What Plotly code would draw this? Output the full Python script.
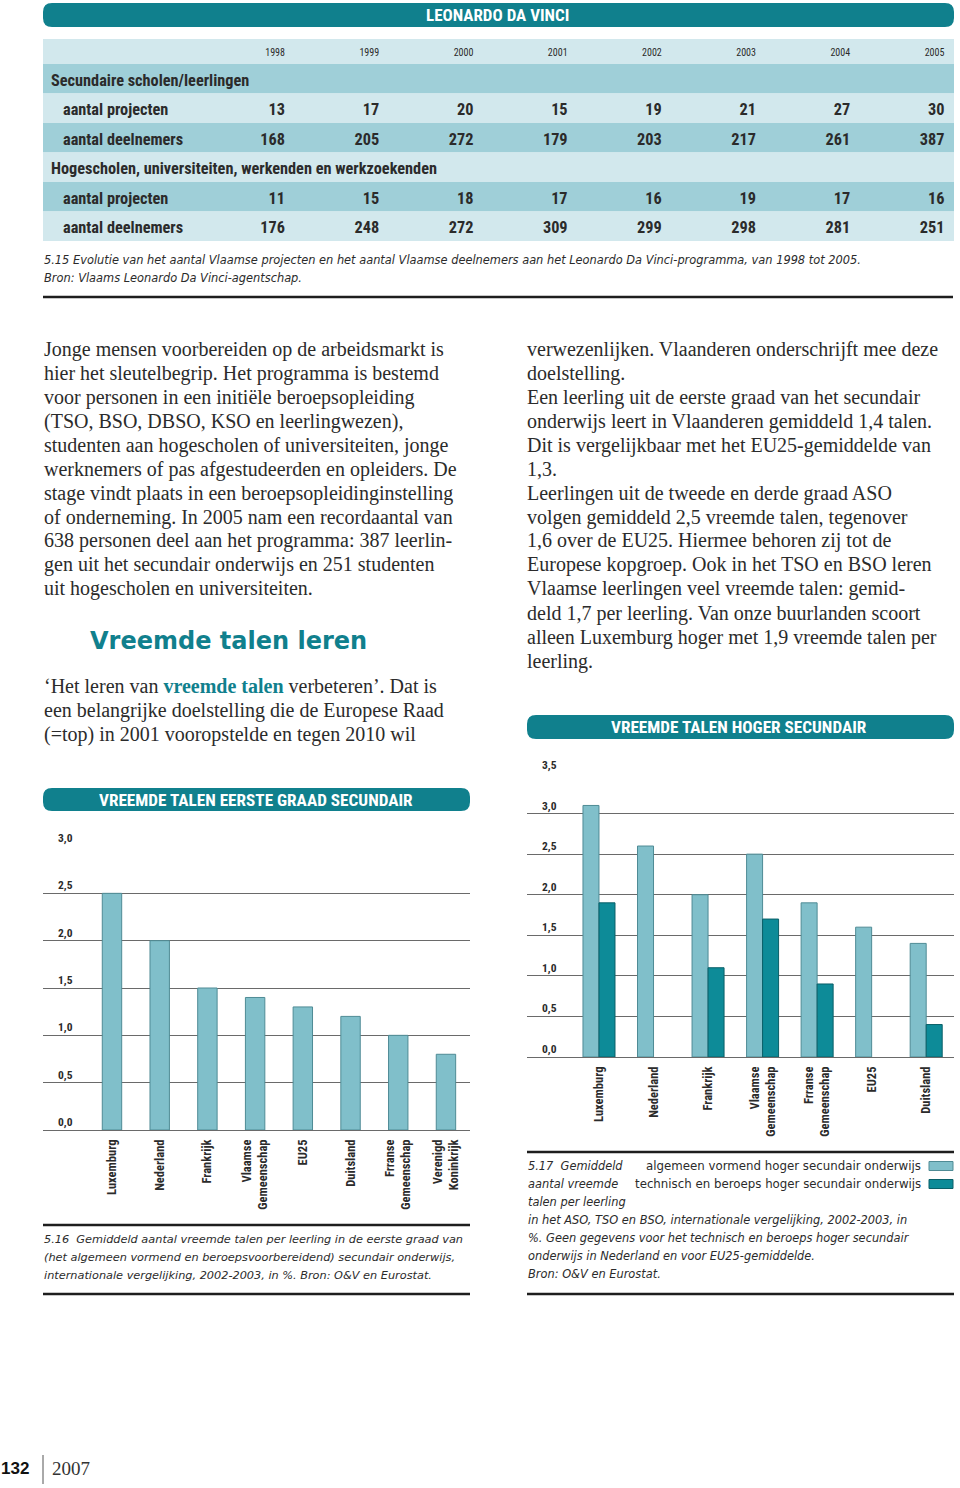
import plotly.graph_objects as go

W, H = 960, 1488


def X(px):
    return px / W


def Y(py):
    return 1 - py / H


TEAL = "#10808d"
LIGHT_ROW = "#d2e8ed"
MED_ROW = "#9fcfd8"
BAR_LIGHT = "#80bfca"
BAR_LIGHT_LINE = "#4f8b95"
BAR_DARK = "#0d8b98"
BAR_DARK_LINE = "#0a5f68"
GRID = "#6a6a6a"
TXT = "#2b2b2b"
COND = "Roboto Condensed, DejaVu Sans Condensed, Liberation Sans Narrow, Roboto, sans-serif"
SERIF = "Liberation Serif, Times New Roman, serif"
CAP = "DejaVu Sans, Verdana, sans-serif"

# ---------------- data ----------------
years = [1998, 1999, 2000, 2001, 2002, 2003, 2004, 2005]
row_labels = ["Secundaire scholen/leerlingen", "aantal projecten", "aantal deelnemers",
              "Hogescholen, universiteiten, werkenden en werkzoekenden",
              "aantal projecten", "aantal deelnemers"]
row_is_section = [True, False, False, True, False, False]
sec_projecten = [13, 17, 20, 15, 19, 21, 27, 30]
sec_deelnemers = [168, 205, 272, 179, 203, 217, 261, 387]
hog_projecten = [11, 15, 18, 17, 16, 19, 17, 16]
hog_deelnemers = [176, 248, 272, 309, 299, 298, 281, 251]

countries1 = ["Luxemburg", "Nederland", "Frankrijk", "Vlaamse<br>Gemeenschap", "EU25",
              "Duitsland", "Frranse<br>Gemeenschap", "Verenigd<br>Koninkrijk"]
talen_eerste_graad = [2.5, 2.0, 1.5, 1.4, 1.3, 1.2, 1.0, 0.8]

countries2 = ["Luxemburg", "Nederland", "Frankrijk", "Vlaamse<br>Gemeenschap",
              "Frranse<br>Gemeenschap", "EU25", "Duitsland"]
talen_aso = [3.1, 2.6, 2.0, 2.5, 1.9, 1.6, 1.4]
talen_tso_bso = [1.9, None, 1.1, 1.7, 0.9, None, 0.4]
legend_labels = ["algemeen vormend hoger secundair onderwijs",
                 "technisch en beroeps hoger secundair onderwijs"]

left_col = [
    "Jonge mensen voorbereiden op de arbeidsmarkt is",
    "hier het sleutelbegrip. Het programma is bestemd",
    "voor personen in een initiële beroepsopleiding",
    "(TSO, BSO, DBSO, KSO en leerlingwezen),",
    "studenten aan hogescholen of universiteiten, jonge",
    "werknemers of pas afgestudeerden en opleiders. De",
    "stage vindt plaats in een beroepsopleidinginstelling",
    "of onderneming. In 2005 nam een recordaantal van",
    "638 personen deel aan het programma: 387 leerlin-",
    "gen uit het secundair onderwijs en 251 studenten",
    "uit hogescholen en universiteiten.",
]
left_col2 = [
    "‘Het leren van <b><span style='color:%s'>vreemde talen</span></b> verbeteren’. Dat is" % TEAL,
    "een belangrijke doelstelling die de Europese Raad",
    "(=top) in 2001 vooropstelde en tegen 2010 wil",
]
right_col = [
    "verwezenlijken. Vlaanderen onderschrijft mee deze",
    "doelstelling.",
    "Een leerling uit de eerste graad van het secundair",
    "onderwijs leert in Vlaanderen gemiddeld 1,4 talen.",
    "Dit is vergelijkbaar met het EU25-gemiddelde van",
    "1,3.",
    "Leerlingen uit de tweede en derde graad ASO",
    "volgen gemiddeld 2,5 vreemde talen, tegenover",
    "1,6 over de EU25. Hiermee behoren zij tot de",
    "Europese kopgroep. Ook in het TSO en BSO leren",
    "Vlaamse leerlingen veel vreemde talen: gemid-",
    "deld 1,7 per leerling. Van onze buurlanden scoort",
    "alleen Luxemburg hoger met 1,9 vreemde talen per",
    "leerling.",
]
caption15 = [
    "5.15 Evolutie van het aantal Vlaamse projecten en het aantal Vlaamse deelnemers aan het Leonardo Da Vinci-programma, van 1998 tot 2005.",
    "Bron: Vlaams Leonardo Da Vinci-agentschap.",
]
caption16 = [
    "5.16  Gemiddeld aantal vreemde talen per leerling in de eerste graad van",
    "(het algemeen vormend en beroepsvoorbereidend) secundair onderwijs,",
    "internationale vergelijking, 2002-2003, in %. Bron: O&V en Eurostat.",
]
caption17_short = ["5.17  Gemiddeld", "aantal vreemde", "talen per leerling"]
caption17 = [
    "in het ASO, TSO en BSO, internationale vergelijking, 2002-2003, in",
    "%. Geen gegevens voor het technisch en beroeps hoger secundair",
    "onderwijs in Nederland en voor EU25-gemiddelde.",
    "Bron: O&V en Eurostat.",
]

fig = go.Figure()

# ---------------- table (text traces on a hidden axis pair) ----------------
COL_W = 94.2          # pixel width of a year column
COL0_RIGHT = 285      # pixel right edge of the first year column
TBL_L, TBL_R = 43, 954
ROW_TOP, ROW_H, HDR_TOP = 64, 29.5, 39
TEXT_DY = 0.1         # small downward nudge so glyphs sit centred in a row


def col_x(px):
    return years[0] + (px - COL0_RIGHT) / COL_W


def row_y(px):
    return 0.5 + (px - ROW_TOP) / ROW_H


row_idx = list(range(1, len(row_labels) + 1))
hdr_y = row_y((HDR_TOP + ROW_TOP) / 2) + 0.07
tfont = dict(family=COND, size=16.3, color=TXT, weight="bold")

fig.add_trace(go.Scatter(x=years, y=[hdr_y] * len(years), text=[str(y) for y in years],
                         mode="text", textposition="middle left",
                         textfont=dict(family=COND, size=10, color=TXT),
                         xaxis="x3", yaxis="y3", showlegend=False, hoverinfo="skip"))
fig.add_trace(go.Scatter(x=[col_x(51) if s else col_x(63) for s in row_is_section],
                         y=[r + TEXT_DY for r in row_idx],
                         text=row_labels, mode="text", textposition="middle right",
                         textfont=tfont, xaxis="x3", yaxis="y3", showlegend=False, hoverinfo="skip"))
for vals, r in [(sec_projecten, 2), (sec_deelnemers, 3), (hog_projecten, 5), (hog_deelnemers, 6)]:
    fig.add_trace(go.Scatter(x=years, y=[r + TEXT_DY] * len(years), text=[str(v) for v in vals],
                             mode="text", textposition="middle left", textfont=tfont,
                             xaxis="x3", yaxis="y3", showlegend=False, hoverinfo="skip"))

# ---------------- chart 1 ----------------
fig.add_trace(go.Bar(x=countries1, y=talen_eerste_graad, width=0.407,
                     marker=dict(color=BAR_LIGHT, line=dict(color=BAR_LIGHT_LINE, width=1)),
                     xaxis="x", yaxis="y", showlegend=False))

# ---------------- chart 2 ----------------
fig.add_trace(go.Bar(x=countries2, y=talen_aso, name=legend_labels[0],
                     marker=dict(color=BAR_LIGHT, line=dict(color=BAR_LIGHT_LINE, width=1)),
                     xaxis="x2", yaxis="y2", showlegend=False))
fig.add_trace(go.Bar(x=countries2, y=talen_tso_bso, name=legend_labels[1],
                     marker=dict(color=BAR_DARK, line=dict(color=BAR_DARK_LINE, width=1)),
                     xaxis="x2", yaxis="y2", showlegend=False))

tickfont = dict(family=COND, size=12.5, color=TXT, weight="bold")
ytickfont = dict(family=COND, size=11.5, color=TXT, weight="bold")

fig.update_layout(
    width=W, height=H, margin=dict(l=0, r=0, t=0, b=0, pad=0, autoexpand=False),
    paper_bgcolor="white", plot_bgcolor="rgba(0,0,0,0)",
    separators=", ", barmode="group", bargap=0.413, showlegend=False,
    xaxis=dict(domain=[X(43), X(470)], range=[-1.446, 7.504], anchor="y",
               tickangle=-90, tickfont=tickfont, showgrid=False, ticks="",
               ticklabelstandoff=6, automargin=False),
    yaxis=dict(domain=[Y(1130), Y(846)], range=[0, 3.0], anchor="x", dtick=0.5,
               tickformat=".1f", showgrid=True, gridcolor=GRID, gridwidth=1,
               zeroline=True, zerolinecolor=GRID, zerolinewidth=1,
               ticklabelposition="inside top", ticklabelstandoff=12,
               ticklabeloverflow="allow", tickfont=ytickfont, ticks="", automargin=False),
    xaxis2=dict(domain=[X(527), X(954)], range=[-1.32, 6.51], anchor="y2",
                tickangle=-90, tickfont=tickfont, showgrid=False, ticks="",
                ticklabelstandoff=6, automargin=False),
    yaxis2=dict(domain=[Y(1057), Y(773)], range=[0, 3.5], anchor="x2", dtick=0.5,
                tickformat=".1f", showgrid=True, gridcolor=GRID, gridwidth=1,
                zeroline=True, zerolinecolor=GRID, zerolinewidth=1,
                ticklabelposition="inside top", ticklabelstandoff=12,
                ticklabeloverflow="allow", tickfont=ytickfont, ticks="", automargin=False),
    xaxis3=dict(domain=[X(TBL_L), X(TBL_R)], range=[col_x(TBL_L), col_x(TBL_R)], anchor="y3",
                visible=False, automargin=False),
    yaxis3=dict(domain=[Y(ROW_TOP + ROW_H * len(row_labels)), Y(HDR_TOP)],
                range=[row_y(ROW_TOP + ROW_H * len(row_labels)), row_y(HDR_TOP)],
                anchor="x3", visible=False, automargin=False),
)

shapes = []
ann = []

# table row backgrounds
row_fill = [MED_ROW, LIGHT_ROW, MED_ROW, LIGHT_ROW, MED_ROW, LIGHT_ROW]
shapes.append(dict(type="rect", xref="x3 domain", yref="y3", x0=0, x1=1,
                   y0=row_y(HDR_TOP), y1=0.5, fillcolor=LIGHT_ROW, line=dict(width=0), layer="below"))
for r, c in zip(row_idx, row_fill):
    shapes.append(dict(type="rect", xref="x3 domain", yref="y3", x0=0, x1=1,
                       y0=r - 0.5, y1=r + 0.5, fillcolor=c, line=dict(width=0), layer="below"))


def rounded(x0, y0, x1, y1, r=9):
    xr, yr = r / W, r / H
    a, b, c, d = X(x0), X(x1), Y(y0), Y(y1)
    path = (f"M{a+xr},{c} L{b-xr},{c} Q{b},{c} {b},{c-yr} L{b},{d+yr} Q{b},{d} {b-xr},{d} "
            f"L{a+xr},{d} Q{a},{d} {a},{d+yr} L{a},{c-yr} Q{a},{c} {a+xr},{c} Z")
    return dict(type="path", xref="paper", yref="paper", path=path,
                fillcolor=TEAL, line=dict(width=0))


def hline(x0, x1, y, w=2.5, color="#1e1e1e"):
    return dict(type="line", xref="paper", yref="paper", x0=X(x0), x1=X(x1), y0=Y(y), y1=Y(y),
                line=dict(color=color, width=w))


def text(x, y, s, size, family, color=TXT, xanchor="left", **kw):
    f = dict(family=family, size=size, color=color)
    f.update(kw)
    return dict(xref="paper", yref="paper", x=X(x), y=Y(y), text=s, showarrow=False,
                xanchor=xanchor, yanchor="middle", font=f)


# title bars
shapes.append(rounded(43, 3, 954, 27))
ann.append(text(497, 15, "LEONARDO DA VINCI", 17, COND, "white", "center", weight="bold"))
shapes.append(rounded(43, 788, 470, 811))
ann.append(text(256, 800, "VREEMDE TALEN EERSTE GRAAD SECUNDAIR", 17.2, COND, "white", "center", weight="bold"))
shapes.append(rounded(527, 715, 954, 739))
ann.append(text(739, 727, "VREEMDE TALEN HOGER SECUNDAIR", 17.2, COND, "white", "center", weight="bold"))

# caption 5.15
for i, s in enumerate(caption15):
    ann.append(text(42, 260 + 18 * i, s, 11.4, CAP, style="italic"))
shapes.append(hline(43, 953, 297))

# body text
for i, s in enumerate(left_col):
    ann.append(text(42, 349 + 24 * i, s, 20, SERIF))
ann.append(text(88, 641, "Vreemde talen leren", 24, CAP, TEAL, weight="bold"))
for i, s in enumerate(left_col2):
    ann.append(text(42, 686 + 24 * i, s, 20, SERIF))
for i, s in enumerate(right_col):
    ann.append(text(525, 349 + 24 * i, s, 20, SERIF))

# caption 5.16
shapes.append(hline(43, 470, 1225))
for i, s in enumerate(caption16):
    ann.append(text(42, 1239 + 18 * i, s, 11.3, CAP, style="italic"))
shapes.append(hline(43, 470, 1294))

# caption 5.17 + legend
shapes.append(hline(527, 954, 1152))
for i, s in enumerate(caption17_short):
    ann.append(text(526, 1166 + 18 * i, s, 11.4, CAP, style="italic"))
for i, s in enumerate(caption17):
    ann.append(text(526, 1220 + 18 * i, s, 11.4, CAP, style="italic"))
shapes.append(hline(527, 954, 1294))
for i, (lab, col, lc) in enumerate(zip(legend_labels, [BAR_LIGHT, BAR_DARK],
                                        [BAR_LIGHT_LINE, BAR_DARK_LINE])):
    yc = 1166 + 18 * i
    ann.append(text(923, yc, lab, 11.8, CAP, xanchor="right"))
    shapes.append(dict(type="rect", xref="paper", yref="paper", x0=X(929), x1=X(953),
                       y0=Y(yc + 4.5), y1=Y(yc - 4.5), fillcolor=col, line=dict(color=lc, width=1)))

# footer
ann.append(text(31, 1468, "<b>132</b>", 17, "Liberation Sans, Arial, sans-serif", "#111", "right"))
shapes.append(dict(type="line", xref="paper", yref="paper", x0=X(43), x1=X(43), y0=Y(1455), y1=Y(1484),
                   line=dict(color="#555", width=1)))
ann.append(text(50, 1468, "2007", 19, SERIF, "#333"))

fig.update_layout(shapes=shapes, annotations=ann)
fig.write_html("out.html", config={"displayModeBar": False},
               post_script="document.body.style.margin='0';")
